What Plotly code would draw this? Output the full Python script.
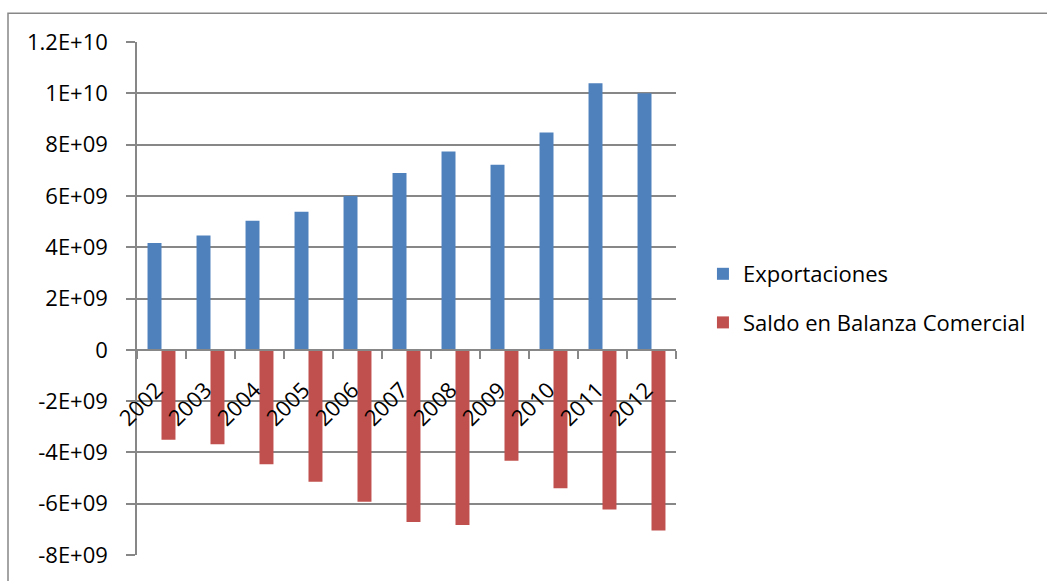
import plotly.graph_objects as go

years = ["2002", "2003", "2004", "2005", "2006", "2007", "2008", "2009", "2010", "2011", "2012"]
exportaciones = [4.16e9, 4.46e9, 5.03e9, 5.38e9, 6.00e9, 6.89e9, 7.73e9, 7.21e9, 8.47e9, 10.39e9, 10.00e9]
saldo = [-3.51e9, -3.68e9, -4.46e9, -5.14e9, -5.92e9, -6.71e9, -6.83e9, -4.33e9, -5.40e9, -6.23e9, -7.04e9]
y_tickvals = [1.2e10, 1e10, 8e9, 6e9, 4e9, 2e9, 0, -2e9, -4e9, -6e9, -8e9]
y_ticktext = ["1.2E+10", "1E+10", "8E+09", "6E+09", "4E+09", "2E+09", "0",
              "-2E+09", "-4E+09", "-6E+09", "-8E+09"]

FONT = "Open Sans"
FS = 22
GRID = "#878787"

fig = go.Figure()
fig.add_trace(go.Bar(x=years, y=exportaciones, name="Exportaciones",
                     marker=dict(color="#4F81BD", line=dict(width=0)),
                     legendgroup="a"))
fig.add_trace(go.Bar(x=years, y=saldo, name="Saldo en Balanza Comercial",
                     marker=dict(color="#C0504D", line=dict(width=0)),
                     legendgroup="b"))

ymin, ymax = -8e9, 1.2e10
zero_pos = (0 - ymin) / (ymax - ymin)

fig.update_layout(
    width=1047, height=581,
    margin=dict(l=137, r=371, t=42, b=23),
    paper_bgcolor="white", plot_bgcolor="white",
    barmode="group", bargap=0.43, bargroupgap=0,
    font=dict(family=FONT, size=FS, color="black"),
    showlegend=True,
    legend=dict(x=1.05, y=0.5, xanchor="left", yanchor="middle",
                traceorder="grouped", tracegroupgap=17,
                font=dict(family=FONT, size=FS, color="black"),
                bgcolor="rgba(0,0,0,0)"),
    xaxis=dict(
        anchor="free", position=zero_pos,
        showgrid=False, showline=True, linecolor=GRID, linewidth=1.5,
        ticks="outside", tickson="boundaries", ticklen=8, tickcolor=GRID, tickwidth=1.5,
        tickangle=-45, tickfont=dict(family=FONT, size=FS, color="black"),
        ticklabelstandoff=18, ticklabelshift=-5,
        zeroline=False,
    ),
    yaxis=dict(
        range=[ymin, ymax], tickvals=y_tickvals, ticktext=y_ticktext,
        showgrid=True, gridcolor=GRID, gridwidth=1.5,
        showline=True, linecolor=GRID, linewidth=1.5,
        ticks="outside", ticklen=9, tickcolor=GRID, tickwidth=1.5,
        ticklabelstandoff=14,
        zeroline=False, tickfont=dict(family=FONT, size=FS, color="black"),
    ),
    shapes=[dict(type="rect", xref="paper", yref="paper",
                 x0=(8 - 137) / 539, x1=2.0, y0=-1.0, y1=1 + (42 - 13) / 516,
                 line=dict(color=GRID, width=1.5), fillcolor="rgba(0,0,0,0)", layer="below")],
)

fig.write_html("out.html")
